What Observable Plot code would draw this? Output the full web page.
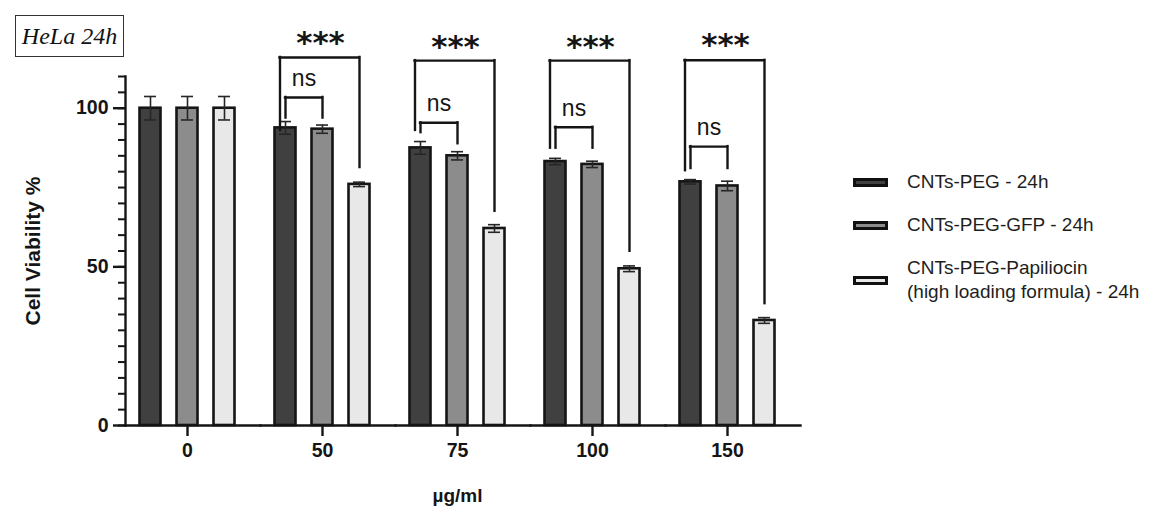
<!DOCTYPE html>
<html>
<head>
<meta charset="utf-8">
<script src="https://cdn.jsdelivr.net/npm/d3@7"></script>
<script src="https://cdn.jsdelivr.net/npm/@observablehq/plot@0.6"></script>
<style>
  body { margin: 0; background: #fff; }
  #wrap { position: relative; width: 1169px; height: 521px; font-family: "Liberation Sans", Arial, sans-serif; color: #1e1e1e; }
  #chart { position: absolute; left: 0; top: 0; }
  #tag { position: absolute; left: 15px; top: 15px; width: 109px; height: 42px; box-sizing: border-box;
         border: 1.5px solid #333; font: italic 24px "Liberation Serif", "Times New Roman", serif;
         display: flex; align-items: center; justify-content: center; color: #111; }
  #legend { position: absolute; left: 853px; top: 0; }
  .row { position: absolute; left: 0; display: flex; align-items: center; transform: translateY(-50%);
         font-size: 19px; line-height: 24px; white-space: pre; }
  .sw { flex: none; width: 35px; height: 9px; box-sizing: border-box; border: 3px solid #111; margin-right: 19px; }
</style>
</head>
<body>
<div id="wrap">
  <div id="chart"></div>
  <div id="tag">HeLa 24h</div>
  <div id="legend"></div>
</div>
<script>
// Treatment concentrations (µg/ml) and the three nanocarrier formulations
const concentrations = ["0", "50", "75", "100", "150"];
const seriesNames = [
  "CNTs-PEG - 24h",
  "CNTs-PEG-GFP - 24h",
  "CNTs-PEG-Papiliocin\n(high loading formula) - 24h"
];
const seriesColors = ["#404040", "#8c8c8c", "#e8e8e8"];

// Mean cell viability (%) and SD per concentration
const pegMean = [100, 93.8, 87.5, 83.2, 76.8];
const pegSd   = [3.7, 2.0, 2.0, 1.0, 0.7];
const gfpMean = [100, 93.4, 85.0, 82.3, 75.5];
const gfpSd   = [3.7, 1.3, 1.3, 1.0, 1.5];
const papMean = [100, 76.0, 62.1, 49.4, 33.1];
const papSd   = [3.7, 0.7, 1.2, 0.9, 0.9];

// Significance annotations (values in % units on the viability axis)
const sigConcs    = ["50", "75", "100", "150"];
const starsLabel  = "***";
const nsLabel     = "ns";
const bigTop      = [116.0, 115.0, 115.0, 115.1];
const bigLeftEnd  = [93.0, 93.0, 87.4, 80.3];
const bigRightEnd = [81.3, 67.5, 54.9, 38.4];
const nsTop       = [103.4, 95.4, 94.0, 87.9];
const nsLeftEnd   = [96.9, 92.3, 87.4, 81.0];
const nsRightEnd  = [96.9, 88.8, 87.4, 81.0];
const starsY      = [120.6, 119.4, 119.4, 119.8];
const nsTextY     = [109.4, 101.5, 99.9, 93.8];

const yMajorTicks = [0, 50, 100];
const yMinorTicks = d3.range(0, 111, 5);

const means = [pegMean, gfpMean, papMean];
const sds = [pegSd, gfpSd, papSd];
const rows = [];
concentrations.forEach((c, i) => {
  seriesNames.forEach((s, j) => rows.push({conc: c, series: s, mean: means[j][i], sd: sds[j][i]}));
});
const brackets = sigConcs.map((c, i) => ({
  conc: c, bigTop: bigTop[i], bigLeftEnd: bigLeftEnd[i], bigRightEnd: bigRightEnd[i],
  nsTop: nsTop[i], nsLeftEnd: nsLeftEnd[i], nsRightEnd: nsRightEnd[i],
  starsY: starsY[i], nsTextY: nsTextY[i]
}));

const [s0, s1, s2] = seriesNames;
const ink = "#151515";
const lineW = 2.4;
const halfBar = 10.5; // half of the bar band width, so horizontal bracket ends sit on bar centres
const legOffset = 5.5; // outer bracket leg sits just left of the inner one

const chart = Plot.plot({
  width: 1169,
  height: 521,
  marginLeft: 125,
  marginRight: 369,
  marginTop: 76,
  marginBottom: 96,
  style: {fontFamily: '"Liberation Sans", Arial, sans-serif', color: ink, background: "transparent", overflow: "visible"},
  fx: {domain: concentrations, padding: 0, axis: null, label: null, round: false},
  x: {domain: seriesNames, paddingInner: 16 / 37, paddingOuter: 0.5405, align: 0.3625, axis: null, round: false},
  y: {domain: [0, 110], axis: null},
  color: {domain: seriesNames, range: seriesColors},
  marks: [
    // bars
    Plot.barY(rows, {fx: "conc", x: "series", y: "mean", fill: "series", stroke: ink, strokeWidth: 2.6}),
    // SD error bars with caps
    Plot.ruleX(rows, {fx: "conc", x: "series", y1: d => d.mean - d.sd, y2: d => d.mean + d.sd, stroke: "#262626", strokeWidth: 1.6}),
    Plot.tickY(rows, {fx: "conc", x: "series", y: d => d.mean + d.sd, insetLeft: 4.5, insetRight: 4.5, stroke: "#262626", strokeWidth: 1.6}),
    Plot.tickY(rows, {fx: "conc", x: "series", y: d => d.mean - d.sd, insetLeft: 4.5, insetRight: 4.5, stroke: "#262626", strokeWidth: 1.6}),

    // y axis: line, minor and major ticks, labels
    Plot.frame({anchor: "left", facetAnchor: "left", stroke: ink, strokeWidth: lineW}),
    Plot.axisY({ticks: yMinorTicks, tickSize: 7, fill: "none", stroke: ink, strokeWidth: 2, label: null}),
    Plot.axisY({ticks: yMajorTicks, tickSize: 12, tickPadding: 5, stroke: ink, strokeWidth: lineW,
                fontSize: 19.5, fontWeight: "bold", fill: ink, label: null}),
    Plot.text(["Cell Viability %"], {fx: () => "0", frameAnchor: "left", textAnchor: "middle", rotate: -90, dx: -92,
                fontSize: 21, fontWeight: "bold", fill: ink}),

    // x axis: baseline, one tick per concentration group, labels and title
    Plot.frame({anchor: "bottom", stroke: ink, strokeWidth: lineW}),
    Plot.axisX({ticks: [s1], tickSize: 11, fill: "none", stroke: ink, strokeWidth: lineW, label: null}),
    Plot.text(concentrations, {fx: d => d, x: () => s1, frameAnchor: "bottom", dy: 31, text: d => d,
                fontSize: 19.5, fontWeight: "bold", fill: ink}),
    Plot.text(["µg/ml"], {fx: () => "75", x: () => s1, frameAnchor: "bottom", dy: 76,
                fontSize: 19, fontWeight: "bold", fill: ink}),

    // "ns" brackets: CNTs-PEG vs CNTs-PEG-GFP
    Plot.ruleY(brackets, {fx: "conc", x1: () => s0, x2: () => s1, y: "nsTop", insetLeft: halfBar, insetRight: halfBar,
                stroke: ink, strokeWidth: lineW, strokeLinecap: "square"}),
    Plot.ruleX(brackets, {fx: "conc", x: () => s0, y1: "nsLeftEnd", y2: "nsTop", stroke: ink, strokeWidth: lineW, strokeLinecap: "square"}),
    Plot.ruleX(brackets, {fx: "conc", x: () => s1, y1: "nsRightEnd", y2: "nsTop", stroke: ink, strokeWidth: lineW, strokeLinecap: "square"}),
    Plot.text(brackets, {fx: "conc", x: () => s0, dx: 18.5, y: "nsTextY", text: () => nsLabel, fontSize: 23, fill: ink}),

    // "***" brackets: CNTs-PEG vs CNTs-PEG-Papiliocin
    Plot.ruleY(brackets, {fx: "conc", x1: () => s0, x2: () => s2, y: "bigTop", insetLeft: halfBar - legOffset, insetRight: halfBar,
                stroke: ink, strokeWidth: lineW, strokeLinecap: "square"}),
    Plot.ruleX(brackets, {fx: "conc", x: () => s0, dx: -legOffset, y1: "bigLeftEnd", y2: "bigTop", stroke: ink, strokeWidth: lineW, strokeLinecap: "square"}),
    Plot.ruleX(brackets, {fx: "conc", x: () => s2, y1: "bigRightEnd", y2: "bigTop", stroke: ink, strokeWidth: lineW, strokeLinecap: "square"}),
    Plot.text(brackets, {fx: "conc", x: () => s1, dx: -2, y: "starsY", text: () => starsLabel,
                fontSize: 31, fontWeight: "bold", fontFamily: '"DejaVu Sans", sans-serif', fill: ink})
  ]
});
document.getElementById("chart").appendChild(chart);

// legend
const legendCenters = [182, 225, 280];
const legend = document.getElementById("legend");
seriesNames.forEach((name, i) => {
  const row = document.createElement("div");
  row.className = "row";
  row.style.top = legendCenters[i] + "px";
  const sw = document.createElement("div");
  sw.className = "sw";
  sw.style.background = seriesColors[i];
  const label = document.createElement("span");
  label.textContent = name;
  row.appendChild(sw);
  row.appendChild(label);
  legend.appendChild(row);
});
</script>
</body>
</html>
